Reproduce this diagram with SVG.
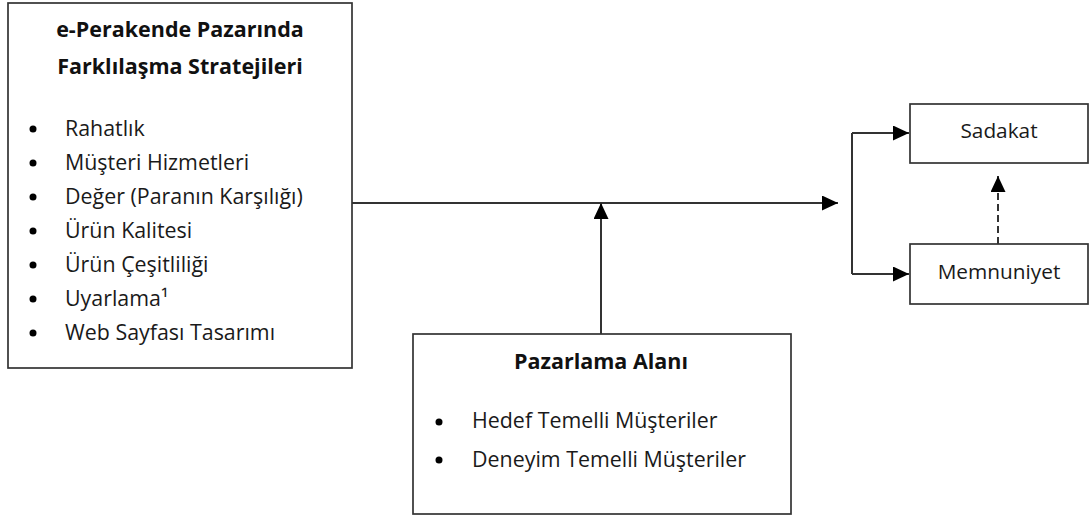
<svg xmlns="http://www.w3.org/2000/svg" width="1090" height="518" viewBox="0 0 1090 518">
  <style>
    .box { fill: #ffffff; stroke: #333333; stroke-width: 1.7; }
    .title { font-family: "Open Sans", "Liberation Sans", sans-serif; font-weight: bold; font-size: 21.5px; fill: #111; text-anchor: middle; }
    .item { font-family: "Open Sans", "Liberation Sans", sans-serif; font-size: 21.4px; fill: #1a1a1a; }
    .label { font-family: "Open Sans", "Liberation Sans", sans-serif; font-size: 20.8px; fill: #1a1a1a; text-anchor: middle; }
    .bullet { fill: #000; }
    .line { fill: none; stroke: #333; stroke-width: 2; }
    .dashed { stroke-dasharray: 7 4; }
  </style>
  <defs>
    <marker id="arrow" markerUnits="userSpaceOnUse" markerWidth="16" markerHeight="15" refX="16" refY="7.5" orient="auto">
      <path d="M0,0 L16,7.5 L0,15 Z" fill="#000"/>
    </marker>
  </defs>

  <rect width="1090" height="518" fill="#ffffff"/>

  <!-- connectors -->
  <g id="connectors">
    <path class="line" d="M352,203 H838" marker-end="url(#arrow)"/>
    <path class="line" d="M601,334 V203" marker-end="url(#arrow)"/>
    <path class="line" d="M852,133 V274"/>
    <path class="line" d="M852,133 H909" marker-end="url(#arrow)"/>
    <path class="line" d="M852,274 H909" marker-end="url(#arrow)"/>
    <path class="line dashed" d="M998,244 V176" marker-end="url(#arrow)"/>
  </g>

  <!-- differentiation strategies -->
  <g id="strategies">
    <rect class="box" x="8" y="3" width="344" height="365"/>
    <text class="title" x="180" y="37">e-Perakende Pazarında</text>
    <text class="title" x="180" y="74">Farklılaşma  Stratejileri</text>
    <circle class="bullet" cx="33" cy="129" r="3.5"/>
    <circle class="bullet" cx="33" cy="163" r="3.5"/>
    <circle class="bullet" cx="33" cy="197" r="3.5"/>
    <circle class="bullet" cx="33" cy="231" r="3.5"/>
    <circle class="bullet" cx="33" cy="265" r="3.5"/>
    <circle class="bullet" cx="33" cy="299" r="3.5"/>
    <circle class="bullet" cx="33" cy="333" r="3.5"/>
    <text class="item" x="65" y="136">Rahatlık</text>
    <text class="item" x="65" y="170">Müşteri Hizmetleri</text>
    <text class="item" x="65" y="204">Değer (Paranın Karşılığı)</text>
    <text class="item" x="65" y="238">Ürün Kalitesi</text>
    <text class="item" x="65" y="272">Ürün Çeşitliliği</text>
    <text class="item" x="65" y="306">Uyarlama¹</text>
    <text class="item" x="65" y="340">Web Sayfası Tasarımı</text>
  </g>

  <!-- marketing area -->
  <g id="marketing">
    <rect class="box" x="413" y="334" width="378" height="180"/>
    <text class="title" x="601" y="369">Pazarlama  Alanı</text>
    <circle class="bullet" cx="439" cy="422" r="3.5"/>
    <circle class="bullet" cx="439" cy="460" r="3.5"/>
    <text class="item" x="472" y="428">Hedef Temelli Müşteriler</text>
    <text class="item" x="472" y="467">Deneyim Temelli Müşteriler</text>
  </g>

  <!-- loyalty -->
  <g id="loyalty">
    <rect class="box" x="910" y="104" width="178" height="59"/>
    <text class="label" x="999" y="138">Sadakat</text>
  </g>

  <!-- satisfaction -->
  <g id="satisfaction">
    <rect class="box" x="910" y="244" width="178" height="60"/>
    <text class="label" x="999" y="279">Memnuniyet</text>
  </g>
</svg>
